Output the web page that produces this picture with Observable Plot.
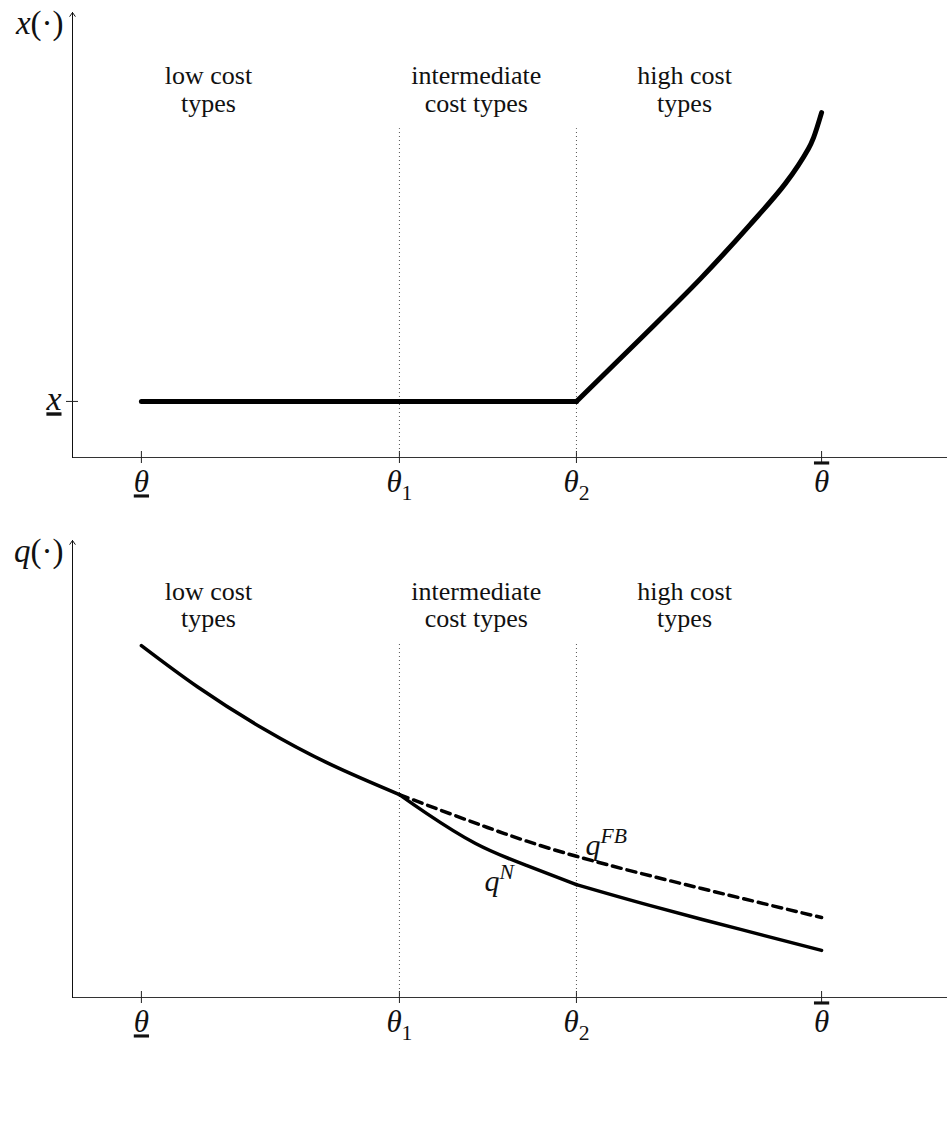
<!DOCTYPE html>
<html><head><meta charset="utf-8">
<script src="https://cdn.jsdelivr.net/npm/d3@7"></script>
<script src="https://cdn.jsdelivr.net/npm/@observablehq/plot@0.6"></script>
<style>body{margin:0;background:#fff} svg{display:block}</style>
</head><body><div id="chart"></div>
<script>
// ---- shared axis data ----
const xDomain = [-0.267, 3.124];
const tickPos = [0, 1, 1.686, 2.636];
const tickLabels = ["{iu:θ}", "{i:θ}{b:1}", "{i:θ}{b:2}", "{io:θ}"];
const regionX = [0.26, 1.298, 2.105];
const regionLabels = ["low cost\ntypes", "intermediate\ncost types", "high cost\ntypes"];
const dividers = [1, 1.686];

// ---- top panel: x(·) ----
const xLower = 1.26;
const flatX = [0, 1, 1.686];
const flatY = [1.26, 1.26, 1.26];
const riseX = [1.686, 1.934, 2.167, 2.360, 2.496, 2.585, 2.605, 2.636];
const riseY = [1.26, 2.67, 4.02, 5.24, 6.16, 6.94, 7.19, 7.75];

// ---- bottom panel: q(·) ----
const qLowX = [0, 0.217, 0.473, 0.733, 1];
const qLowY = [7.70, 6.80, 5.88, 5.10, 4.44];
const qMidX = [1, 1.105, 1.295, 1.492, 1.686];
const qMidY = [4.44, 4.03, 3.37, 2.89, 2.47];
const qHighX = [1.686, 1.973, 2.322, 2.636];
const qHighY = [2.47, 2.01, 1.49, 1.03];
const qFBX = [1, 1.341, 1.686, 2.167, 2.636];
const qFBY = [4.44, 3.72, 3.09, 2.39, 1.75];
const curveLabels = [{x: 1.721, y: 3.33, t: "{i:q}{ip:FB}"}, {x: 1.33, y: 2.54, t: "{i:q}{ip:N}"}];

const STYLE = "font-family: 'Liberation Serif', 'Times New Roman', serif; background: white; overflow: visible;";
const ticks = tickPos.map((x, i) => ({x, label: tickLabels[i]}));
const regions = regionX.map((x, i) => ({x, label: regionLabels[i]}));
const zip = (xs, ys, s) => xs.map((x, i) => ({x, y: ys[i], s}));

function richify(svg) {
  d3.select(svg).selectAll("text").each(function () {
    const t = this.textContent;
    if (!t.includes("{")) return;
    const el = d3.select(this);
    el.text(null);
    const re = /\{(\w+):([^}]*)\}|([^{]+)/g;
    let m, shift = 0;
    while ((m = re.exec(t))) {
      const flags = m[1] || "", str = m[1] ? m[2] : m[3];
      const ts = el.append("tspan").text(str);
      if (flags.includes("i")) ts.attr("font-style", "italic");
      if (flags.includes("u")) ts.style("text-decoration", "underline");
      if (flags.includes("o")) ts.style("text-decoration", "overline");
      let target = 0;
      if (flags.includes("b")) { target = 8; ts.attr("font-size", "0.7em"); }
      if (flags.includes("p")) { target = -12; ts.attr("font-size", "0.72em"); }
      if (target !== shift) { ts.attr("dy", (target - shift) + "px"); shift = target; }
    }
  });
  return svg;
}

function axesMarks(yLabel, dividerTop, regionY) {
  return [
    Plot.ruleY([0], {stroke: "#333", strokeWidth: 1.2}),
    Plot.arrow([0], {x1: xDomain[0], x2: xDomain[0], y1: 0, y2: 10, stroke: "#111", strokeWidth: 1, headLength: 7, headAngle: 70}),
    Plot.ruleX(tickPos, {x: d => d, y1: 0, y2: 0, insetTop: -6, insetBottom: -6, stroke: "#222", strokeWidth: 1}),
    Plot.ruleX(dividers, {x: d => d, y1: 0, y2: dividerTop, stroke: "#555", strokeWidth: 1, strokeDasharray: "1,3"}),
    Plot.text(regions, {x: "x", y: regionY, text: "label", fontSize: 26, lineHeight: 1.06, fill: "#111"}),
    Plot.text(ticks, {x: "x", y: 0, text: "label", dy: 25, fontSize: 31, fill: "#111"}),
    Plot.text([yLabel], {x: xDomain[0], y: 10, text: d => d, dx: -9, dy: 11, textAnchor: "end", fontSize: 33, fill: "#111"})
  ];
}

const topPanel = Plot.plot({
  width: 947, height: 510,
  marginLeft: 72, marginRight: 0, marginTop: 12, marginBottom: 53,
  x: {domain: xDomain, axis: null},
  y: {domain: [0, 10], axis: null},
  style: STYLE,
  marks: [
    ...axesMarks("{i:x}(·)", 7.39, 8.28),
    Plot.ruleY([xLower], {y: d => d, x1: xDomain[0], x2: xDomain[0], insetLeft: -6, insetRight: -6, stroke: "#222", strokeWidth: 1}),
    Plot.text([xLower], {x: xDomain[0], y: d => d, text: () => "{iu:x}", dx: -11, dy: -2, textAnchor: "end", fontSize: 34, fill: "#111"}),
    Plot.line(zip(flatX, flatY, "flat"), {x: "x", y: "y", stroke: "#000", strokeWidth: 5}),
    Plot.line(zip(riseX, riseY, "rise"), {x: "x", y: "y", curve: "catmull-rom", stroke: "#000", strokeWidth: 5, strokeLinejoin: "round"})
  ]
});

const bottomPanel = Plot.plot({
  width: 947, height: 611,
  marginLeft: 72, marginRight: 0, marginTop: 30, marginBottom: 124,
  x: {domain: xDomain, axis: null},
  y: {domain: [0, 10], axis: null},
  style: STYLE,
  marks: [
    ...axesMarks("{i:q}(·)", 7.75, 8.6),
    Plot.line([...zip(qLowX, qLowY, "low"), ...zip(qMidX, qMidY, "mid"), ...zip(qHighX, qHighY, "high")],
      {x: "x", y: "y", z: "s", curve: "natural", stroke: "#000", strokeWidth: 3.5}),
    Plot.line(zip(qFBX, qFBY, "fb"), {x: "x", y: "y", curve: "natural", stroke: "#000", strokeWidth: 3.5, strokeDasharray: "9,6"}),
    Plot.text(curveLabels, {x: "x", y: "y", text: "t", textAnchor: "start", fontSize: 30, fill: "#111"})
  ]
});

document.getElementById("chart").append(richify(topPanel), richify(bottomPanel));
</script>
</body></html>
